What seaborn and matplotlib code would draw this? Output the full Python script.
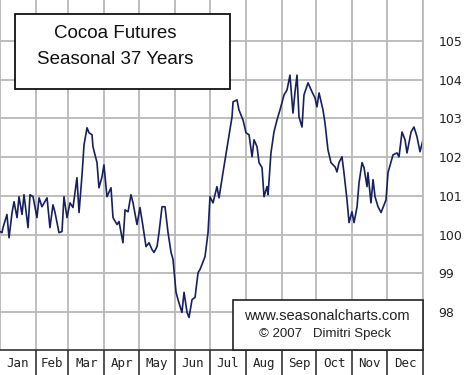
import pandas as pd
import seaborn as sns
import matplotlib.pyplot as plt
from matplotlib.patches import Rectangle

# ======================================
# DADOS
# ======================================

# dia do ano (0-365)
dias = [0, 1.7, 2.6, 6.0, 7.8, 10.4, 12.1, 14.7, 16.4, 19.0, 20.7, 24.2, 25.9, 28.5,
        31.9, 33.7, 36.2, 40.6, 43.1, 45.7, 47.5, 50.9, 53.5, 55.2, 57.8, 60.4, 63.0,
        66.4, 68.2, 70.8, 72.5, 75.1, 76.8, 79.4, 80.2, 83.7, 85.4, 88.0, 89.7, 92.3,
        95.8, 97.5, 101.0, 102.7, 106.1, 107.9, 110.5, 113.0, 114.8, 118.2, 120.8,
        123.4, 126.0, 128.6, 131.2, 132.9, 135.5, 137.2, 139.8, 142.4, 145.0, 147.6,
        149.3, 151.9, 153.6, 157.0, 158.8, 161.4, 163.1, 165.7, 168.3, 170.9,
        172.6, 176.9, 179.5, 181.2, 183.8, 187.2, 189.0, 192.4, 195.9, 200.2, 201.1,
        204.5, 206.2, 209.7, 212.3, 214.9, 217.5, 219.2, 221.8, 223.5, 226.1, 227.8,
        230.4, 231.3, 233.8, 236.4, 239.0, 241.6, 245.1, 247.7, 250.2, 252.8, 254.6,
        256.3, 258.0, 260.6, 262.3, 265.8, 269.2, 271.8, 273.5, 275.3, 278.7, 280.4,
        283.0, 285.6, 289.1, 290.8, 292.5, 295.1, 296.8, 299.4, 301.2, 303.7, 305.5,
        308.1, 309.8, 312.4, 314.1, 316.7, 317.5, 320.1, 321.9, 323.6, 326.2, 328.8,
        330.5, 333.1, 334.8, 339.1, 342.6, 344.3, 346.9, 349.5, 351.2, 354.7, 357.2,
        359.8, 362.4, 365.0]

valores = [100.08, 100.05, 100.18, 100.52, 99.92, 100.57, 100.85, 100.44, 100.98,
           100.52, 101.03, 100.18, 101.03, 100.98, 100.44, 100.95, 100.72, 100.95,
           100.18, 100.77, 100.57, 100.05, 100.08, 100.98, 100.44, 100.82, 100.70,
           101.47, 100.57, 101.55, 102.32, 102.76, 102.63, 102.58, 102.27, 101.86,
           101.21, 101.49, 101.80, 100.98, 101.21, 100.44, 100.26, 100.34, 99.79,
           100.64, 100.59, 101.03, 100.82, 100.26, 100.70, 100.21, 99.69, 99.79,
           99.61, 99.54, 99.69, 100.05, 100.72, 100.72, 100.05, 99.54, 99.36, 98.51,
           98.32, 97.99, 98.51, 97.99, 97.86, 98.32, 98.38, 99.02,
           99.10, 99.43, 100.05, 100.98, 100.82, 101.24, 100.95, 101.60, 102.24,
           103.04, 103.43, 103.48, 103.22, 102.96, 102.63, 102.58, 102.01, 102.45,
           102.27, 101.86, 101.73, 100.98, 101.24, 101.03, 102.11, 102.65, 102.96,
           103.22, 103.61, 103.74, 104.12, 103.14, 103.69, 104.12, 103.04, 102.78,
           103.61, 103.92, 103.69, 103.53, 103.30, 103.66, 103.22, 102.89, 102.19,
           101.86, 101.75, 101.62, 101.86, 102.01, 101.60, 100.90, 100.31, 100.59,
           100.31, 100.72, 101.34, 101.86, 101.73, 101.24, 101.60, 100.82, 101.42,
           100.98, 100.72, 100.57, 100.70, 100.90, 101.60, 102.06, 102.11, 102.01,
           102.65, 102.45, 102.11, 102.65, 102.78, 102.53, 102.14, 102.45]

meses = ['Jan', 'Feb', 'Mar', 'Apr', 'May', 'Jun',
         'Jul', 'Aug', 'Sep', 'Oct', 'Nov', 'Dec']
limites_meses = [0, 31, 59, 90, 120, 151, 181, 212, 243, 273, 304, 334, 365]
niveis = [98, 99, 100, 101, 102, 103, 104, 105]

df = pd.DataFrame({'dia': dias, 'valor': valores})

# ======================================
# ESTILO
# ======================================

sns.set_style('white')
plt.rcParams['font.family'] = ['Liberation Sans', 'DejaVu Sans']
cor_linha = '#16205e'
cor_grade = '#b9b9b9'

W, H = 474, 375
fig = plt.figure(figsize=(W / 100, H / 100), dpi=100)

# área principal
ax = fig.add_axes([0, 25 / H, 423 / W, 350 / H])
sns.lineplot(data=df, x='dia', y='valor', ax=ax, color=cor_linha, linewidth=1.2)
ax.set_xlim(0, 365)
ax.set_ylim(97.02, 106.06)
ax.set_xticks(limites_meses)
ax.set_yticks(niveis)
ax.yaxis.tick_right()
ax.tick_params(axis='y', length=0, pad=11, labelsize=9, labelcolor='#222222')
ax.tick_params(axis='x', length=0, labelbottom=False)
for lab in ax.get_yticklabels():
    lab.set_family('DejaVu Sans')
ax.grid(True, color=cor_grade, linewidth=1.3)
ax.set_xlabel('')
ax.set_ylabel('')
for s in ['left', 'top', 'bottom']:
    ax.spines[s].set_visible(False)
ax.spines['right'].set_color(cor_grade)
ax.spines['right'].set_linewidth(1.3)

# faixa dos meses
axm = fig.add_axes([0, 0, 423 / W, 25 / H])
axm.set_xlim(0, 365)
axm.set_ylim(0, 1)
axm.set_xticks([])
axm.set_yticks([])
for s in ['left', 'bottom']:
    axm.spines[s].set_visible(False)
for s in ['top', 'right']:
    axm.spines[s].set_color('#333333')
    axm.spines[s].set_linewidth(1.2)
for lim in limites_meses[1:-1]:
    axm.axvline(lim, color='#333333', linewidth=1.2)
for i, m in enumerate(meses):
    centro = (limites_meses[i] + limites_meses[i + 1]) / 2
    axm.text(centro, 0.45, m, ha='center', va='center', fontsize=9,
             family='DejaVu Sans Mono', color='#222222')

# caixa do título
fig.add_artist(Rectangle((15 / W, 1 - 89 / H), 215 / W, 75 / H, transform=fig.transFigure,
                         facecolor='white', edgecolor='#111111', linewidth=1.3, zorder=5))
fig.text(115 / W, 1 - 34 / H, 'Cocoa Futures', ha='center', va='center',
         fontsize=13.5, color='#111111', zorder=6)
fig.text(115 / W, 1 - 60 / H, 'Seasonal 37 Years', ha='center', va='center',
         fontsize=13.5, color='#111111', zorder=6)

# caixa do site
fig.add_artist(Rectangle((233 / W, 25 / H), 190 / W, 50 / H, transform=fig.transFigure,
                         facecolor='white', edgecolor='#222222', linewidth=1.2, zorder=5))
fig.text(327 / W, 1 - 316 / H, 'www.seasonalcharts.com', ha='center', va='center',
         fontsize=10.5, color='#222222', zorder=6)
fig.text(325 / W, 1 - 334 / H, '\u00a9 2007   Dimitri Speck', ha='center', va='center',
         fontsize=9.5, color='#222222', zorder=6)

plt.savefig('out.png', dpi=100)
